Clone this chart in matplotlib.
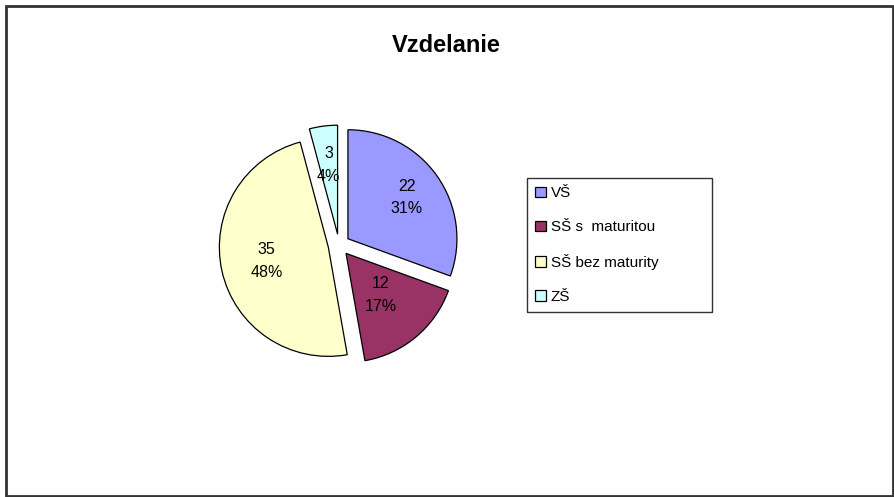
import numpy as np
import matplotlib

matplotlib.use("Agg")
import matplotlib.pyplot as plt
from matplotlib.patches import Rectangle

# data
categories = ["VŠ", "SŠ s  maturitou", "SŠ bez maturity", "ZŠ"]
counts = [22, 12, 35, 3]
pct_labels = ["31%", "17%", "48%", "4%"]
colors = ["#9999FF", "#993366", "#FFFFCC", "#CCFFFF"]

W, H = 894, 497
fig = plt.figure(figsize=(W / 100, H / 100), dpi=100)
plt.rcParams["font.family"] = ["Liberation Sans", "DejaVu Sans"]

# pie axes: 300px square around the pie centre (339, 245), radius ~109 px
R_px = 109
side = 300
cx, cy = 339, 245
ax = fig.add_axes([(cx - side / 2) / W, 1 - (cy + side / 2) / H, side / W, side / H])
lim = side / 2 / R_px

explode = [0.1] * len(counts)
wedges, _ = ax.pie(counts, colors=colors, startangle=90, counterclock=False,
                   explode=explode, radius=1.0,
                   wedgeprops=dict(edgecolor="black", linewidth=0.9))
ax.set_xlim(-lim, lim)
ax.set_ylim(-lim, lim)
ax.set_aspect("equal")
ax.axis("off")

# value / percent labels inside each slice
label_r = [0.66, 0.5, 0.58, 0.64]
for w, n, p, r in zip(wedges, counts, pct_labels, label_r):
    ang = np.deg2rad((w.theta1 + w.theta2) / 2)
    x0, y0 = w.center
    ax.text(x0 + r * np.cos(ang), y0 + r * np.sin(ang), f"{n}\n{p}",
            ha="center", va="center", fontsize=11.5, linespacing=1.65, color="black")

fig.text(446 / W, 1 - 45 / H, "Vzdelanie", ha="center", va="center",
         fontsize=17, fontweight="bold")

# legend box stretched to the reference width (527..712 px), top at 178 px
leg_h = 0.01
leg = fig.legend(wedges, categories, loc="upper left", mode="expand",
                 bbox_to_anchor=(527 / W, 1 - 178 / H - leg_h, (712 - 527) / W, leg_h),
                 fontsize=11, frameon=True, fancybox=False, edgecolor="black",
                 handlelength=0.7, handleheight=0.7, handletextpad=0.3,
                 labelspacing=1.3, borderpad=0.55, borderaxespad=0)
leg.get_frame().set_linewidth(1.0)

# outer chart frame
fig.add_artist(Rectangle((6 / W, 1 - 496 / H), (893 - 6) / W, (496 - 6) / H,
                         transform=fig.transFigure, fill=False,
                         edgecolor="#333333", linewidth=2))

fig.savefig("out.png", dpi=100)
